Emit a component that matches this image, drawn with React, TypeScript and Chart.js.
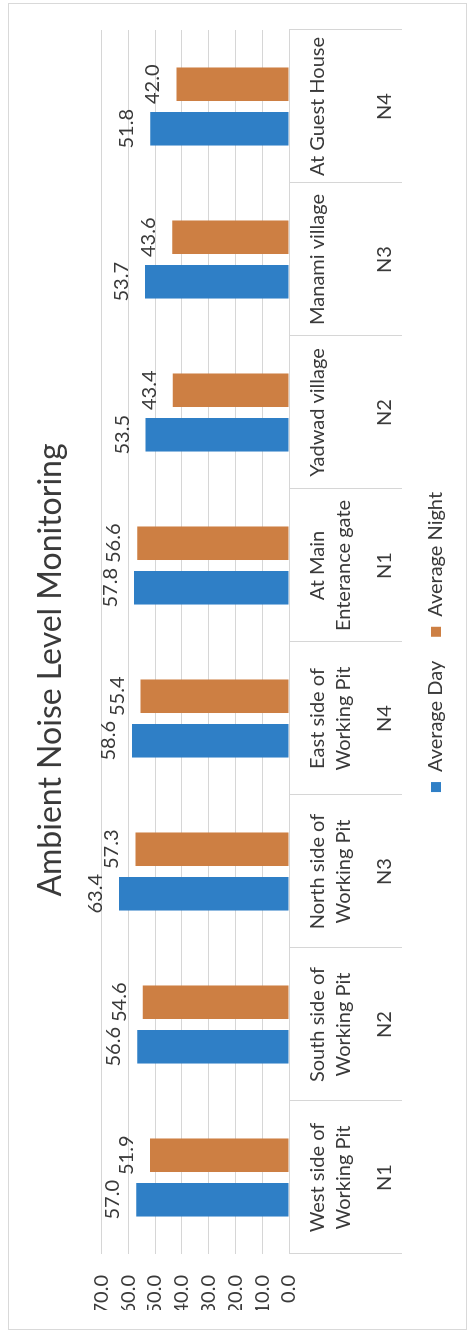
import React, { useEffect, useRef } from "react";
import { Chart, registerables } from "chart.js";

Chart.register(...registerables);

// Monitoring stations (two-line site names) and their station codes
const siteNames: string[][] = [
  ["West side of", "Working Pit"],
  ["South side of", "Working Pit"],
  ["North side of", "Working Pit"],
  ["East side of", "Working Pit"],
  ["At Main", "Enterance gate"],
  ["Yadwad village"],
  ["Manami village"],
  ["At Guest House"],
];
const stationCodes = ["N1", "N2", "N3", "N4", "N1", "N2", "N3", "N4"];

// Noise levels, dB(A)
const averageDay = [57.0, 56.6, 63.4, 58.6, 57.8, 53.5, 53.7, 51.8];
const averageNight = [51.9, 54.6, 57.3, 55.4, 56.6, 43.4, 43.6, 42.0];

const valueTicks = [0, 10, 20, 30, 40, 50, 60, 70];
const seriesNames = ["Average Day", "Average Night"];
const chartTitle = "Ambient Noise Level Monitoring";

const FONT = "Lato, 'Open Sans', sans-serif";
const TEXT = "#3a3a3a";
const GRID = "#d6d6d6";
const DAY_COLOR = "#2f7fc6";
const NIGHT_COLOR = "#cd7f43";

// Value labels just beyond the end of every bar
const barValueLabels = {
  id: "barValueLabels",
  afterDatasetsDraw(chart: any) {
    const ctx = chart.ctx;
    ctx.save();
    ctx.font = `20px ${FONT}`;
    ctx.fillStyle = TEXT;
    ctx.textAlign = "center";
    ctx.textBaseline = "alphabetic";
    chart.data.datasets.forEach((ds: any, di: number) => {
      const meta = chart.getDatasetMeta(di);
      meta.data.forEach((bar: any, i: number) => {
        const v = Number(ds.data[i]);
        ctx.fillText(v.toFixed(1), bar.x, bar.y - 17);
      });
    });
    ctx.restore();
  },
};

// Two-level category labels: site name rows, then the station code row
const categoryTable = {
  id: "categoryTable",
  afterDraw(chart: any) {
    const x = chart.scales.x;
    const ctx = chart.ctx;
    ctx.save();
    ctx.font = `20px ${FONT}`;
    ctx.fillStyle = TEXT;
    ctx.textAlign = "center";
    ctx.textBaseline = "alphabetic";
    siteNames.forEach((lines, i) => {
      const cx = x.getPixelForTick(i);
      lines.forEach((t, k) => ctx.fillText(t, cx, x.top + 35 + k * 26));
      ctx.fillText(stationCodes[i], cx, x.top + 102);
    });
    ctx.restore();
  },
};

export default function App() {
  const canvasRef = useRef<HTMLCanvasElement>(null);

  useEffect(() => {
    const chart = new Chart(canvasRef.current!, {
      type: "bar",
      data: {
        labels: siteNames.map((l) => l.join(" ")),
        datasets: [
          {
            label: seriesNames[0],
            data: averageDay,
            backgroundColor: DAY_COLOR,
            borderWidth: 0,
            categoryPercentage: 0.582,
            barPercentage: 0.753,
          },
          {
            label: seriesNames[1],
            data: averageNight,
            backgroundColor: NIGHT_COLOR,
            borderWidth: 0,
            categoryPercentage: 0.582,
            barPercentage: 0.753,
          },
        ],
      },
      options: {
        responsive: false,
        animation: false,
        devicePixelRatio: 1,
        layout: { padding: { top: 0, left: 19, right: 26, bottom: 10 } },
        font: { family: FONT },
        plugins: {
          title: {
            display: true,
            text: chartTitle,
            color: TEXT,
            font: { family: FONT, size: 32, weight: "normal" },
            padding: { top: 22, bottom: 32 },
          },
          legend: {
            position: "bottom",
            fullSize: false,
            labels: {
              boxWidth: 10,
              boxHeight: 10,
              padding: 24,
              color: TEXT,
              font: { family: FONT, size: 20 },
            },
          },
          tooltip: { enabled: false },
        },
        scales: {
          x: {
            offset: true,
            grid: {
              offset: true,
              drawOnChartArea: false,
              drawTicks: true,
              tickLength: 113,
              color: GRID,
            },
            border: { display: true, color: GRID },
            ticks: { display: false },
          },
          y: {
            min: 0,
            max: 70,
            afterBuildTicks: (scale: any) => {
              scale.ticks = valueTicks.map((v) => ({ value: v }));
            },
            afterFit: (scale: any) => {
              scale.width = 56;
            },
            grid: { color: GRID, drawTicks: false },
            border: { display: false },
            ticks: {
              autoSkip: false,
              padding: 21,
              color: TEXT,
              font: { family: FONT, size: 20 },
              callback: (v: any) => Number(v).toFixed(1),
            },
          },
        },
      },
      plugins: [barValueLabels, categoryTable],
    });
    return () => chart.destroy();
  }, []);

  return (
    <div
      style={{
        position: "fixed",
        left: 0,
        top: 0,
        width: 1333,
        height: 470,
        background: "#fff",
        transformOrigin: "0 0",
        transform: "translateY(1333px) rotate(-90deg)",
      }}
    >
      <div
        style={{
          position: "absolute",
          left: 3,
          top: 8,
          width: 1325,
          height: 457,
          border: "1px solid #d9d9d9",
        }}
      >
        <canvas
          ref={canvasRef}
          width={1325}
          height={457}
          style={{ display: "block", width: 1325, height: 457 }}
        />
      </div>
    </div>
  );
}
